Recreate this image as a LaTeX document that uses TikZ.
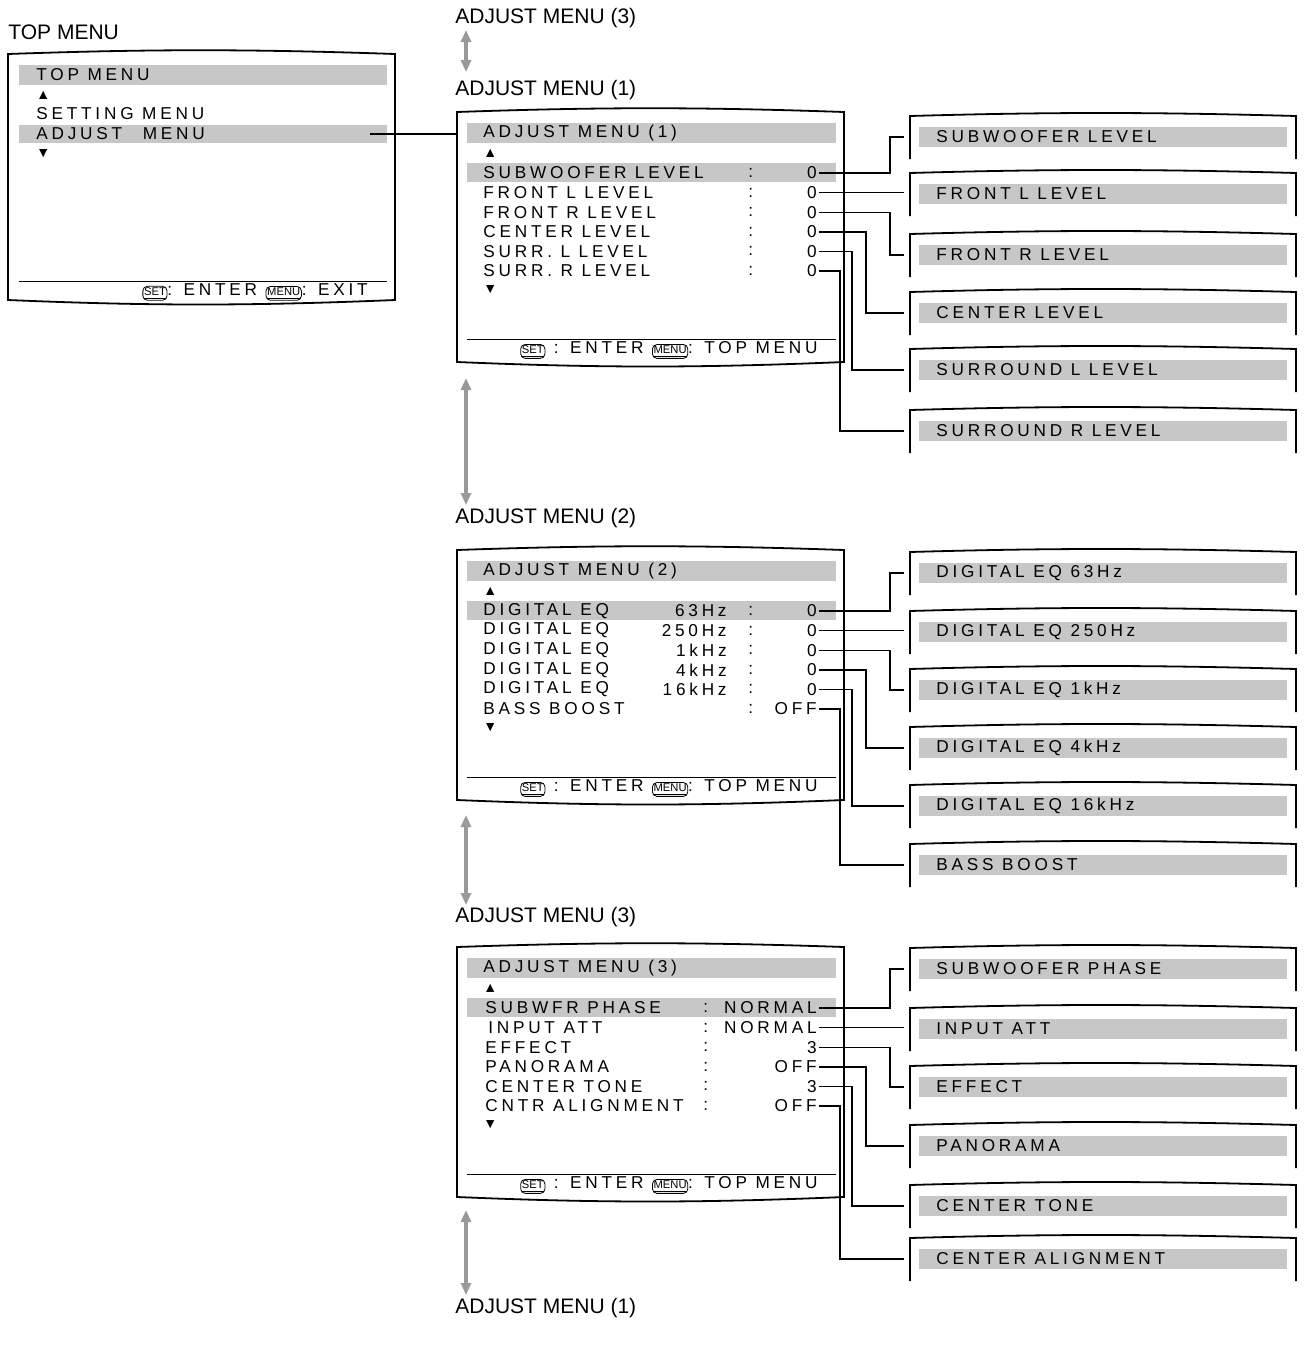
\documentclass[tikz,border=0pt]{standalone}
\usepackage{fontspec}
\setmainfont{Liberation Sans}
\usetikzlibrary{arrows.meta}
\newcommand{\mf}{\fontsize{8.6}{9}\selectfont\addfontfeature{LetterSpace=22}}
\newcommand{\hf}{\fontsize{10.5}{12}\selectfont}
\newcommand{\btn}[1]{\tikz[baseline=(b.base)]\node[draw,rounded corners=2.2pt,inner xsep=0.6pt,inner ysep=0.5pt,line width=0.4pt,font=\fontsize{5.6}{6}\selectfont\addfontfeature{LetterSpace=0}](b){\underline{#1}};}
\tikzset{
 mt/.style={anchor=west,inner sep=0pt,font=\mf},
 mr/.style={anchor=east,inner sep=0pt,font=\mf},
 hd/.style={anchor=west,inner sep=0pt,font=\hf},
 bar/.style={fill=black!22,draw=none},
 frame/.style={line width=0.9pt},
 conn/.style={line width=0.7pt},
 garrow/.style={draw=black!40,line width=1.6pt,{Triangle[width=5pt,length=6pt]}-{Triangle[width=5pt,length=6pt]}},
}
\newcommand{\menubox}[3]{% yoff, title, footer-right
 \draw[frame] (457,#1+112) .. controls (600,#1+107) and (700,#1+107) .. (844,#1+112) -- (844,#1+362) .. controls (700,#1+368) and (600,#1+368) .. (457,#1+362) -- cycle;
 \fill[bar] (467,#1+123) rectangle (836,#1+143);
 \node[mt] (t#1) at (483,#1+133) {#2};
 \node[mt,font=\fontsize{7}{7}\selectfont] at (483,#1+153) {▲};
 \node[mt,font=\fontsize{7}{7}\selectfont] at (483,#1+290) {▼};
 \fill[bar] (467,#1+163) rectangle (836,#1+182);
 \draw[line width=0.5pt] (467,#1+339) -- (836,#1+339);
 \node[mr] (f#1) at (818,#1+350) {\btn{SET} : ENTER \btn{MENU}: TOP MENU};
}
\newcommand{\rbox}[3]{% name, ty, text
 \draw[frame] (910,#2+22) -- (910,#2-21) .. controls (1050,#2-25) and (1150,#2-25) .. (1296,#2-21) -- (1296,#2+22);
 \fill[bar] (919,#2-10) rectangle (1287,#2+10);
 \node[mt] (#1) at (936,#2) {#3};
 \coordinate (#1w) at (904,#2);
}
\begin{document}
\begin{tikzpicture}[x=0.5pt,y=-0.5pt]
\useasboundingbox (0,0) rectangle (1307,1345);
% headings
\node[hd] (h0) at (8,32) {TOP MENU};
\node[hd] (h3a) at (455,18) {ADJUST MENU (3)};
\node[hd] (h1a) at (455,90) {ADJUST MENU (1)};
\node[hd] (h2) at (455,518) {ADJUST MENU (2)};
\node[hd] (h3) at (455,917) {ADJUST MENU (3)};
\node[hd] (h1b) at (455,1308) {ADJUST MENU (1)};
% top menu
\draw[frame] (8,54) .. controls (150,49) and (250,49) .. (395,54) -- (395,300) .. controls (250,306) and (150,306) .. (8,300) -- cycle;
\fill[bar] (19,65) rectangle (387,85);
\node[mt] (tt) at (36,75) {TOP MENU};
\node[mt,font=\fontsize{7}{7}\selectfont] at (36,95) {▲};
\node[mt] (ts) at (36,114) {SETTING MENU};
\fill[bar] (19,125) rectangle (387,143);
\node[mt] (ta) at (36,134) {ADJUST\hspace{1.2em}MENU};
\node[mt,font=\fontsize{7}{7}\selectfont] at (36,154) {▼};
\draw[line width=0.5pt] (19,281) -- (387,281);
\node[mr] (tf) at (368,292) {\btn{SET}: ENTER \btn{MENU}: EXIT};
\coordinate (tae) at (370,134);
\coordinate (b1w) at (457,134);
\draw[conn] (tae) -- (b1w);
% gray arrows
\coordinate (a1s) at (466,30); \coordinate (a1e) at (466,72);
\draw[garrow] (a1s) -- (a1e);
\coordinate (a2s) at (466,378); \coordinate (a2e) at (466,505);
\draw[garrow] (a2s) -- (a2e);
\coordinate (a3s) at (466,815); \coordinate (a3e) at (466,905);
\draw[garrow] (a3s) -- (a3e);
\coordinate (a4s) at (466,1210); \coordinate (a4e) at (466,1295);
\draw[garrow] (a4s) -- (a4e);
% group 1
\menubox{0}{ADJUST MENU (1)}{}
\foreach \t [count=\i] in {SUBWOOFER LEVEL,FRONT L LEVEL,FRONT R LEVEL,CENTER LEVEL,SURR. L LEVEL,SURR. R LEVEL}{
 \node[mt] (ga\i) at (483,173+19.6*\i-19.6) {\t};
 \node[mt] at (748,173+19.6*\i-19.6) {:};
 \node[mr] (va\i) at (817,173+19.6*\i-19.6) {0};
}
\rbox{ra1}{137}{SUBWOOFER LEVEL}
\rbox{ra2}{194}{FRONT L LEVEL}
\rbox{ra3}{255}{FRONT R LEVEL}
\rbox{ra4}{313}{CENTER LEVEL}
\rbox{ra5}{370}{SURROUND L LEVEL}
\rbox{ra6}{431}{SURROUND R LEVEL}
% group 2
\menubox{438}{ADJUST MENU (2)}{}
\foreach \f [count=\i] in {63Hz,250Hz,1kHz,4kHz,16kHz}{
 \node[mt] (gb\i) at (483,611+19.6*\i-19.6) {DIGITAL EQ};
 \node[mr] at (727,611+19.6*\i-19.6) {\f};
 \node[mt] at (748,611+19.6*\i-19.6) {:};
 \node[mr] (vb\i) at (817,611+19.6*\i-19.6) {0};
}
\node[mt] (gb6) at (483,709) {BASS BOOST};
\node[mt] at (748,709) {:};
\node[mr] (vb6) at (817,709) {OFF};
\rbox{rb1}{573}{DIGITAL EQ 63Hz}
\rbox{rb2}{632}{DIGITAL EQ 250Hz}
\rbox{rb3}{690}{DIGITAL EQ 1kHz}
\rbox{rb4}{748}{DIGITAL EQ 4kHz}
\rbox{rb5}{806}{DIGITAL EQ 16kHz}
\rbox{rb6}{865}{BASS BOOST}
% group 3
\menubox{835}{ADJUST MENU (3)}{}
\foreach \t/\v [count=\i] in {SUBWFR PHASE/NORMAL,{\,INPUT ATT}/NORMAL,EFFECT/3,PANORAMA/OFF,CENTER TONE/3,CNTR ALIGNMENT/OFF}{
 \node[mt] (gc\i) at (485,1008+19.6*\i-19.6) {\t};
 \node[mt] at (703,1008+19.6*\i-19.6) {:};
 \node[mr] (vc\i) at (817,1008+19.6*\i-19.6) {\v};
}
\rbox{rc1}{969}{SUBWOOFER PHASE}
\rbox{rc2}{1029}{INPUT ATT}
\rbox{rc3}{1087}{EFFECT}
\rbox{rc4}{1146}{PANORAMA}
\rbox{rc5}{1206}{CENTER TONE}
\rbox{rc6}{1259}{CENTER ALIGNMENT}
% connectors
\foreach \g in {a,b,c}{
 \draw[conn] (v\g1.east) ++(2,0) -| ([xshift=-7]r\g1w) -- (r\g1w);
 \draw[conn] (v\g2.east) ++(2,0) -- (v\g2.east -| r\g2w);
 \draw[conn] (v\g3.east) ++(2,0) -| ([xshift=-7]r\g3w) -- (r\g3w);
 \draw[conn] (v\g4.east) ++(2,0) -| ([xshift=-19]r\g4w) -- (r\g4w);
 \draw[conn] (v\g5.east) ++(2,0) -| ([xshift=-26]r\g5w) -- (r\g5w);
 \draw[conn] (v\g6.east) ++(2,0) -| ([xshift=-32]r\g6w) -- (r\g6w);
}
\end{tikzpicture}
\end{document}
